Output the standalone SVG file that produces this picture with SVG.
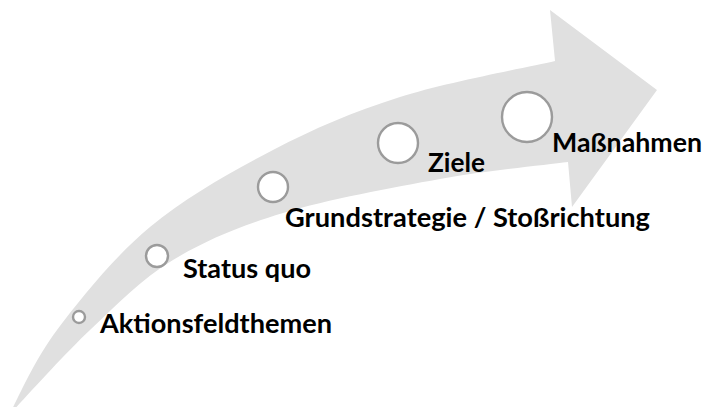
<svg xmlns="http://www.w3.org/2000/svg" width="708" height="407" viewBox="0 0 708 407">
<style>
.arrow{fill:#e0e0e0;stroke:none}
.dot{fill:#ffffff;stroke:#9b9b9b;stroke-width:2.4}
.lbl{font-family:Lato,"Open Sans","Liberation Sans",sans-serif;font-weight:bold;font-size:27.5px;fill:#000000}
</style>
<rect width="708" height="407" fill="#ffffff"/>
<g id="arrow">
<path class="arrow" d="M 550,10 L 657,90 L 572,207 L 568,162 C 546.7,164.8 487.5,170.5 440,179 C 392.5,187.5 327.5,199.5 283,213 C 238.5,226.5 205.2,240.5 173,260 C 140.8,279.5 117.3,304.2 90,330 C 62.7,355.8 22.5,400.8 9,415 C 17,400.8 33.5,361.3 57,330 C 80.5,298.7 114,257 150,227 C 186,197 231.3,171.7 273,150 C 314.7,128.3 353,111.8 400,97 C 447,82.2 529.2,67 555,61 Z"/>
</g>
<g id="connectors"></g>
<g id="node-aktionsfeldthemen">
<circle class="dot" cx="79" cy="317" r="6"/>
<text class="lbl" x="100" y="333" textLength="232" lengthAdjust="spacingAndGlyphs">Aktionsfeldthemen</text>
</g>
<g id="node-status-quo">
<circle class="dot" cx="157" cy="256" r="11"/>
<text class="lbl" x="183" y="278" textLength="128" lengthAdjust="spacingAndGlyphs">Status quo</text>
</g>
<g id="node-grundstrategie">
<circle class="dot" cx="273" cy="187" r="15"/>
<text class="lbl" x="285" y="227" textLength="365" lengthAdjust="spacingAndGlyphs">Grundstrategie / Stoßrichtung</text>
</g>
<g id="node-ziele">
<circle class="dot" cx="398" cy="143" r="20"/>
<text class="lbl" x="428" y="172" textLength="57" lengthAdjust="spacingAndGlyphs">Ziele</text>
</g>
<g id="node-massnahmen">
<circle class="dot" cx="527" cy="117" r="25"/>
<text class="lbl" x="552" y="152" textLength="150" lengthAdjust="spacingAndGlyphs">Maßnahmen</text>
</g>
</svg>
